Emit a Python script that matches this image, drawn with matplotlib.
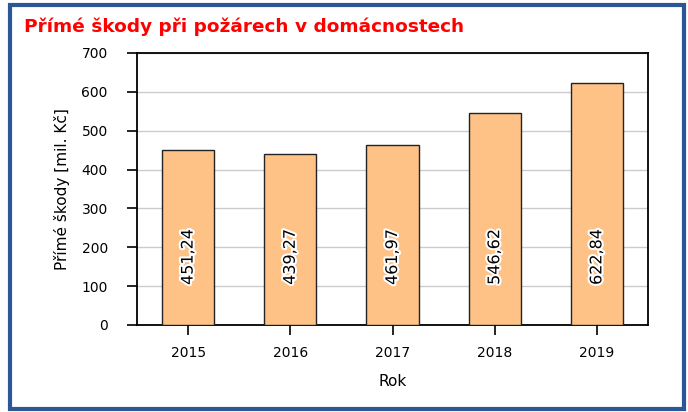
import matplotlib.pyplot as plt
from matplotlib.patches import Rectangle
import matplotlib.patheffects as pe

years = ["2015", "2016", "2017", "2018", "2019"]
damage = [451.24, 439.27, 461.97, 546.62, 622.84]
labels = ["451,24", "439,27", "461,97", "546,62", "622,84"]

plt.rcParams["font.family"] = ["DejaVu Sans"]

fig = plt.figure(figsize=(6.88, 4.12), dpi=100)

# blue frame round the whole chart
fig.patches.append(Rectangle((9.5 / 688, 3.5 / 412), 674 / 688, 404 / 412,
                             transform=fig.transFigure, fill=False,
                             edgecolor="#2B5797", linewidth=3))

fig.text(24 / 688, 1 - 27 / 412, "Přímé škody při požárech v domácnostech",
         color="#FF0000", fontsize=13.3, fontweight="bold", va="center", ha="left")

ax = fig.add_axes([137 / 688, 1 - 325 / 412, 511 / 688, 272 / 412])
x = range(len(years))
ax.bar(x, damage, width=0.51, color="#FFC286", edgecolor="#222222", linewidth=1, zorder=3)

for xi, lab in zip(x, labels):
    ax.text(xi, 175, lab, rotation=90, ha="center", va="center", fontsize=11.5,
            color="black", zorder=4,
            path_effects=[pe.withStroke(linewidth=3, foreground="white")])

ax.set_xlim(-0.5, len(years) - 0.5)
ax.set_ylim(0, 700)
ax.set_yticks(range(0, 701, 100))
ax.set_xticks(list(x))
ax.set_xticklabels(years)
ax.yaxis.grid(True, color="#CCCCCC", linewidth=1, zorder=0)
ax.set_axisbelow(True)
ax.tick_params(axis="y", length=7, width=1.2, pad=14, labelsize=10)
ax.tick_params(axis="x", length=7, width=1.2, pad=8, labelsize=10)
for s in ax.spines.values():
    s.set_linewidth(1.3)
ax.set_ylabel("Přímé škody [mil. Kč]", fontsize=11, labelpad=8)
ax.set_xlabel("Rok", fontsize=11, labelpad=10)

fig.savefig("out.png", dpi=100)
